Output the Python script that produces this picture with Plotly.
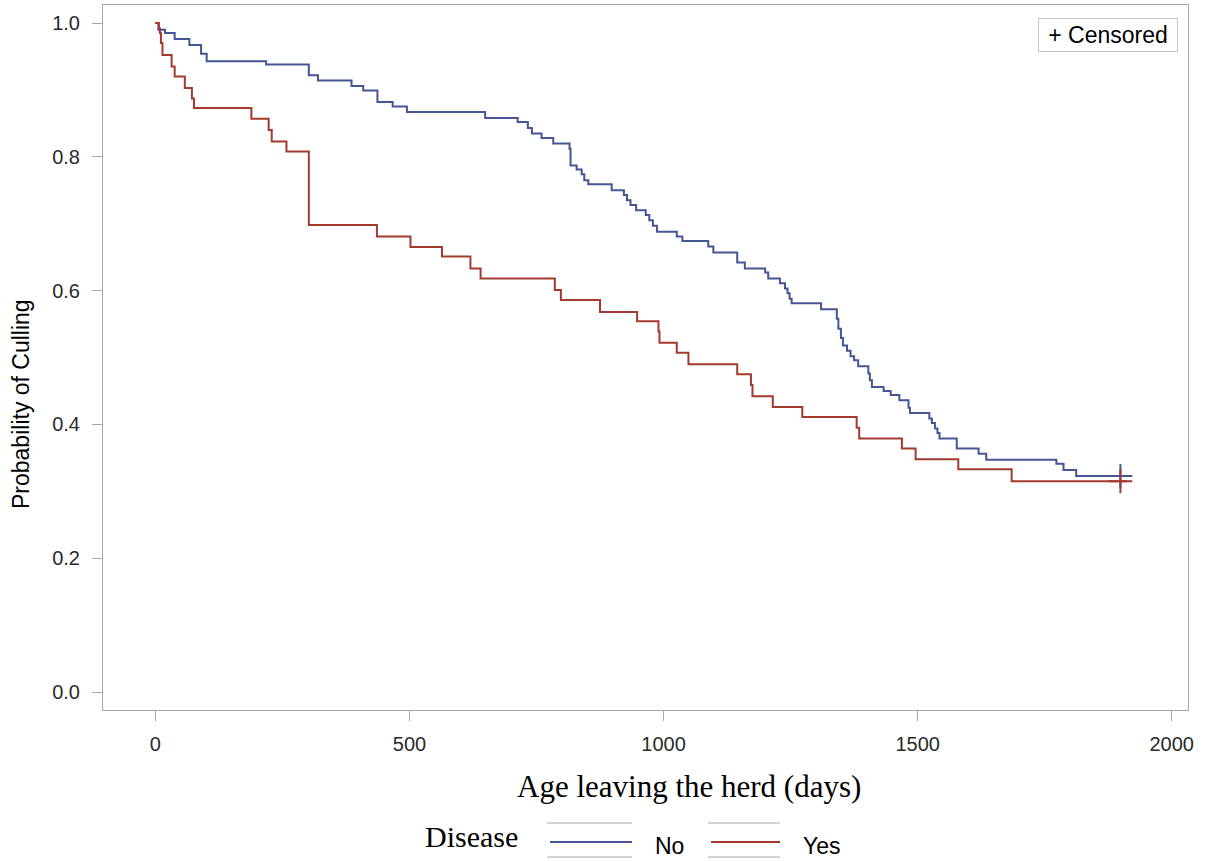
import plotly.graph_objects as go

# Kaplan-Meier style step estimates by disease status
no_time = [0, 6, 19, 38, 67, 90, 101, 218, 302, 320, 386, 409, 437, 467, 495,
           649, 713, 733, 741, 760, 783, 815, 817, 829, 839, 844, 852, 898,
           922, 928, 935, 946, 965, 972, 979, 987, 1026, 1037, 1088, 1098,
           1145, 1160, 1200, 1206, 1229, 1239, 1244, 1248, 1252, 1310, 1341,
           1344, 1349, 1353, 1361, 1368, 1375, 1383, 1403, 1406, 1410, 1433,
           1447, 1464, 1482, 1485, 1523, 1528, 1534, 1539, 1543, 1577, 1620,
           1635, 1773, 1787, 1812, 1912]
no_surv = [1.0, 0.990, 0.985, 0.976, 0.967, 0.954, 0.943, 0.938, 0.922, 0.914,
           0.906, 0.899, 0.882, 0.875, 0.867, 0.858, 0.852, 0.843, 0.835,
           0.828, 0.820, 0.812, 0.787, 0.781, 0.774, 0.765, 0.759, 0.750,
           0.743, 0.735, 0.728, 0.720, 0.713, 0.705, 0.697, 0.688, 0.681,
           0.674, 0.666, 0.657, 0.642, 0.633, 0.627, 0.618, 0.611, 0.603,
           0.596, 0.588, 0.581, 0.572, 0.558, 0.543, 0.529, 0.518, 0.510,
           0.502, 0.496, 0.487, 0.476, 0.466, 0.456, 0.450, 0.444, 0.436,
           0.425, 0.417, 0.409, 0.402, 0.394, 0.387, 0.379, 0.364, 0.356,
           0.347, 0.341, 0.332, 0.323, 0.323]

yes_time = [0, 7, 9, 11, 14, 32, 38, 58, 72, 76, 189, 223, 229, 258, 302, 436,
            502, 564, 620, 640, 786, 798, 875, 948, 990, 992, 1026, 1049, 1145,
            1172, 1175, 1215, 1273, 1380, 1385, 1469, 1496, 1580, 1685, 1912]
yes_surv = [1.0, 0.992, 0.985, 0.970, 0.952, 0.935, 0.920, 0.903, 0.887, 0.873,
            0.857, 0.840, 0.823, 0.808, 0.698, 0.681, 0.665, 0.651, 0.633,
            0.618, 0.601, 0.586, 0.568, 0.554, 0.539, 0.522, 0.507, 0.490,
            0.475, 0.459, 0.442, 0.426, 0.411, 0.395, 0.379, 0.364, 0.348,
            0.333, 0.315, 0.315]

no_censor_time = [1899]
no_censor_surv = [0.323]
yes_censor_time = [1899]
yes_censor_surv = [0.315]

x_ticks = [0, 500, 1000, 1500, 2000]
y_ticks = [0.0, 0.2, 0.4, 0.6, 0.8, 1.0]

groups = ["No", "Yes"]
colors = {"No": "#445694", "Yes": "#A23A2E"}

W, H = 1209, 861
L, R, T, B = 103, 1188, 5, 710   # plot frame in pixels


def px(xp, yp):
    """Pixel position -> paper coordinates."""
    return (xp - L) / (R - L), (B - yp) / (B - T)


fig = go.Figure()

series = {"No": (no_time, no_surv, no_censor_time, no_censor_surv),
          "Yes": (yes_time, yes_surv, yes_censor_time, yes_censor_surv)}

for g in groups:
    t, s, ct, cs = series[g]
    fig.add_trace(go.Scatter(x=t, y=s, mode="lines", line_shape="hv",
                             line=dict(color=colors[g], width=2),
                             showlegend=False, hoverinfo="skip"))
    fig.add_trace(go.Scatter(x=ct, y=cs, mode="markers",
                             marker=dict(symbol="cross-thin", size=17,
                                         line=dict(color=colors[g], width=2)),
                             showlegend=False, hoverinfo="skip"))

frame = "#a8a8a8"
tick_font = dict(family="Liberation Sans, Arial", size=20, color="#2a2a2a")

fig.update_xaxes(range=[-103, 2032], tickvals=x_ticks,
                 ticktext=[str(v) for v in x_ticks],
                 showgrid=False, zeroline=False, showline=True, mirror=True,
                 linecolor=frame, linewidth=1, ticks="outside", ticklen=10,
                 tickcolor=frame, tickfont=tick_font, ticklabelstandoff=6)
fig.update_yaxes(range=[-0.0269, 1.0269], tickvals=y_ticks,
                 ticktext=[f"{v:.1f}" for v in y_ticks],
                 showgrid=False, zeroline=False, showline=True, mirror=True,
                 linecolor=frame, linewidth=1, ticks="outside", ticklen=10,
                 tickcolor=frame, tickfont=tick_font, ticklabelstandoff=8)

annotations = []
shapes = []

# axis titles
ax, ay = px(689, 786)
annotations.append(dict(text="Age leaving the herd (days)", x=ax, y=ay,
                        xref="paper", yref="paper", showarrow=False,
                        xanchor="center", yanchor="middle",
                        font=dict(family="Liberation Serif, Times New Roman",
                                  size=31, color="#000000")))
ax, ay = px(21, 404)
annotations.append(dict(text="Probability of Culling", x=ax, y=ay,
                        xref="paper", yref="paper", showarrow=False,
                        textangle=-90, xanchor="center", yanchor="middle",
                        font=dict(family="Liberation Sans, Arial", size=23,
                                  color="#000000")))

# censored key inside the frame
ax, ay = px(1178, 18)
annotations.append(dict(text="+ Censored", x=ax, y=ay, xref="paper",
                        yref="paper", showarrow=False, xanchor="right",
                        yanchor="top", width=132, height=26, borderpad=3,
                        bordercolor="#c8c8c8", borderwidth=1, bgcolor="white",
                        font=dict(family="Liberation Sans, Arial", size=23,
                                  color="#000000")))

# group legend below the chart
ax, ay = px(471, 836)
annotations.append(dict(text="Disease", x=ax, y=ay, xref="paper",
                        yref="paper", showarrow=False, xanchor="center",
                        yanchor="middle",
                        font=dict(family="Liberation Serif, Times New Roman",
                                  size=30, color="#000000")))

swatches = {"No": (547, 632, 669), "Yes": (708, 780, 822)}
for g in groups:
    x0, x1, tx = swatches[g]
    for gy in (823, 857):
        a0, b0 = px(x0, gy)
        a1, _ = px(x1, gy)
        shapes.append(dict(type="line", xref="paper", yref="paper",
                           x0=a0, x1=a1, y0=b0, y1=b0,
                           line=dict(color="#d4d4d4", width=2)))
    a0, b0 = px(x0 + 3, 842)
    a1, _ = px(x1, 842)
    shapes.append(dict(type="line", xref="paper", yref="paper",
                       x0=a0, x1=a1, y0=b0, y1=b0,
                       line=dict(color=colors[g], width=2)))
    ax, ay = px(tx, 846)
    annotations.append(dict(text=g, x=ax, y=ay, xref="paper", yref="paper",
                            showarrow=False, xanchor="center",
                            yanchor="middle",
                            font=dict(family="Liberation Sans, Arial",
                                      size=23, color="#000000")))

fig.update_layout(width=W, height=H,
                  margin=dict(l=L, r=W - R, t=T, b=H - B, autoexpand=False),
                  paper_bgcolor="white", plot_bgcolor="white",
                  annotations=annotations, shapes=shapes, showlegend=False)

fig.write_html("out.html")
